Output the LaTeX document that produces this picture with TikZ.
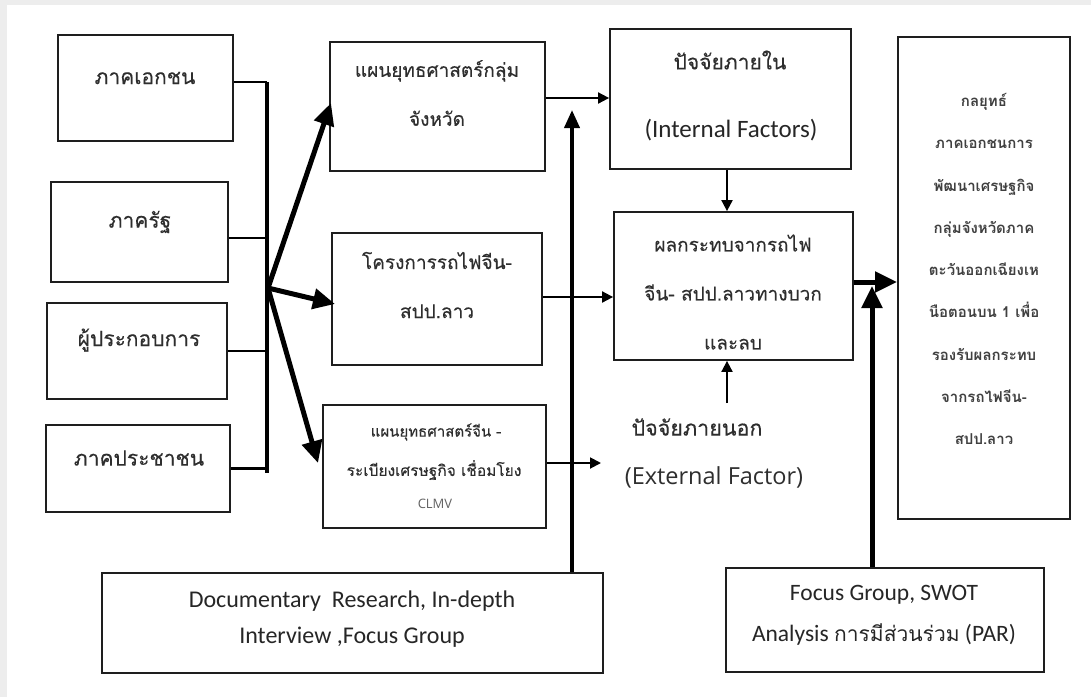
\documentclass[tikz,border=0pt]{standalone}
\usepackage{fontspec}
\setmainfont{Carlito}
\newfontfamily\thf[Script=Thai,FakeBold=0.25]{Loma}
\newfontfamily\thr[Script=Thai]{Loma}
\newfontfamily\lightf{Open Sans}
\usetikzlibrary{arrows.meta,calc}
\definecolor{txtc}{HTML}{2E2E2E}
\definecolor{linec}{HTML}{1E1E1E}
\definecolor{framec}{HTML}{EDEDED}
\begin{document}
\begin{tikzpicture}[x=1pt,y=-1pt,
  box/.style={draw=linec, line width=1.8pt, fill=white, inner sep=0pt},
  th/.style={text=txtc, font=\thf\fontsize{19}{23}\selectfont, align=center, inner sep=0pt},
  bigth/.style={th, font=\thf\fontsize{21}{25}\selectfont},
  bigarr/.style={draw=black, line width=5pt, -{Triangle[length=22pt,width=20pt]}},
  vertarr/.style={draw=black, line width=3.8pt, -{Triangle[length=18pt,width=15pt]}},
  thinarr/.style={draw=black, line width=1.9pt, -{Triangle[length=11pt,width=11pt]}},
  busline/.style={draw=black, line width=2.6pt}]
\fill[framec] (0,0) rectangle (1091,697);
\fill[white] (7,5) rectangle (1091,697);
\useasboundingbox (0,0) rectangle (1091,697);

% left boxes
\node[box, minimum width=175pt, minimum height=106pt] (pvt) at (145.5,88) {};
\node[bigth] (pvtT) at (145,78) {ภาคเอกชน};
\node[box, minimum width=177pt, minimum height=100pt] (gov) at (139.5,232) {};
\node[bigth] (govT) at (140,222) {ภาครัฐ};
\node[box, minimum width=180pt, minimum height=96pt] (ent) at (137,351) {};
\node[bigth] (entT) at (139,340) {ผู้ประกอบการ};
\node[box, minimum width=184pt, minimum height=87pt] (pub) at (138,468.5) {};
\node[bigth] (pubT) at (139,458) {ภาคประชาชน};

% bus
\coordinate (bustop) at (267,82);
\coordinate (busbot) at (267,473);
\coordinate (hub) at (268,288);
\draw[busline] ([yshift=6pt]pvt.east) -- ([yshift=6pt]pvt.east -| bustop);
\draw[busline] ([yshift=-6pt]gov.east) -- ([yshift=-6pt]gov.east -| bustop);
\draw[busline] (ent.east) -- (ent.east -| bustop);
\draw[busline] (pub.east) -- (pub.east -| bustop);
\draw[black, line width=3.6pt] (bustop) -- (busbot);

% middle boxes
\node[box, minimum width=215pt, minimum height=129pt] (A) at (437.5,106.5) {};
\node[th] (AT) at (437,93) {แผนยุทธศาสตร์กลุ่ม\\[26pt]จังหวัด};
\node[box, minimum width=210pt, minimum height=132pt] (B) at (437,299) {};
\node[th] (BT) at (437,285) {โครงการรถไฟจีน-\\[26pt]สปป.ลาว};
\node[box, minimum width=223pt, minimum height=123pt] (C) at (434.5,466.5) {};
\node[th, font=\thf\fontsize{15}{18}\selectfont] (CT1) at (436,432) {แผนยุทธศาสตร์จีน -};
\node[th, font=\thf\fontsize{15.5}{18}\selectfont] (CT2) at (434,470) {ระเบียงเศรษฐกิจ เชื่อมโยง};
\node[text=txtc!75, font=\lightf\fontsize{13}{15}\selectfont, inner sep=0pt] (CT3) at (435,504) {CLMV};

% hub arrows
\coordinate (tipA) at (331,103);
\coordinate (tipB) at (335,304);
\coordinate (tipC) at (318,463);
\draw[bigarr] (hub) -- (tipA);
\draw[bigarr] (hub) -- (tipB);
\draw[bigarr] (hub) -- (tipC);

% internal / impact
\node[box, minimum width=241pt, minimum height=140pt] (int) at (730.5,99) {};
\node[bigth] (intT1) at (730,60) {ปัจจัยภายใน};
\node[text=black!85, font=\fontsize{25}{30}\selectfont, inner sep=0pt] (intT2) at (731,130) {(Internal Factors)};
\node[box, minimum width=239pt, minimum height=148pt] (imp) at (733.5,286) {};
\node[th] (impT) at (733,292) {ผลกระทบจากรถไฟ\\[26pt]จีน- สปป.ลาวทางบวก\\[26pt]และลบ};
\node[bigth, font=\thf\fontsize{21.5}{25}\selectfont] (ext1) at (697,427) {ปัจจัยภายนอก};
\node[text=txtc, font=\lightf\fontsize{23.5}{28}\selectfont, inner sep=0pt] (ext2) at (714,477) {(External Factor)};

% right box
\node[box, minimum width=172pt, minimum height=482pt] (res) at (984,278) {};
\node[th, text=black!75, font=\thr\bfseries\fontsize{15}{42.25}\selectfont] (resT) at (984,269) {กลยุทธ์\\ภาคเอกชนการ\\พัฒนาเศรษฐกิจ\\กลุ่มจังหวัดภาค\\ตะวันออกเฉียงเห\\นือตอนบน 1 เพื่อ\\รองรับผลกระทบ\\จากรถไฟจีน-\\สปป.ลาว};

% bottom boxes
\node[box, minimum width=501pt, minimum height=100pt] (doc) at (352.5,623) {};
\node[text=black!85, font=\fontsize{24}{36}\selectfont, align=center, inner sep=0pt] (docT) at (352,619) {Documentary\ \ Research, In-depth\\Interview ,Focus Group};
\node[box, minimum width=318pt, minimum height=104pt] (foc) at (885,620) {};
\node[text=black!85, font=\fontsize{23.5}{41}\selectfont, align=center, inner sep=0pt] (focT) at (884,615) {Focus Group, SWOT\\Analysis {\thr\fontsize{21}{41}\selectfont การมีส่วนร่วม} (PAR)};

% connectors
\draw[thinarr] (A.east |- 0,98) -- (int.west |- 0,98);
\draw[thinarr] (B.east |- 0,297) -- (imp.west |- 0,297);
\coordinate (cend) at (601,463);
\draw[thinarr] (C.east |- cend) -- (cend);
\draw[thinarr] (int.south -| 727,0) -- (imp.north -| 727,0);
\draw[thinarr] (727,403) -- (imp.south -| 727,0);
\coordinate (dtip) at (572,110);
\draw[vertarr] (doc.north -| dtip) -- (dtip);
\draw[bigarr] (imp.east |- 0,282) -- (res.west |- 0,282);
\coordinate (ftip) at (872,286);
\draw[bigarr] (foc.north -| ftip) -- (ftip);
\end{tikzpicture}
\end{document}
